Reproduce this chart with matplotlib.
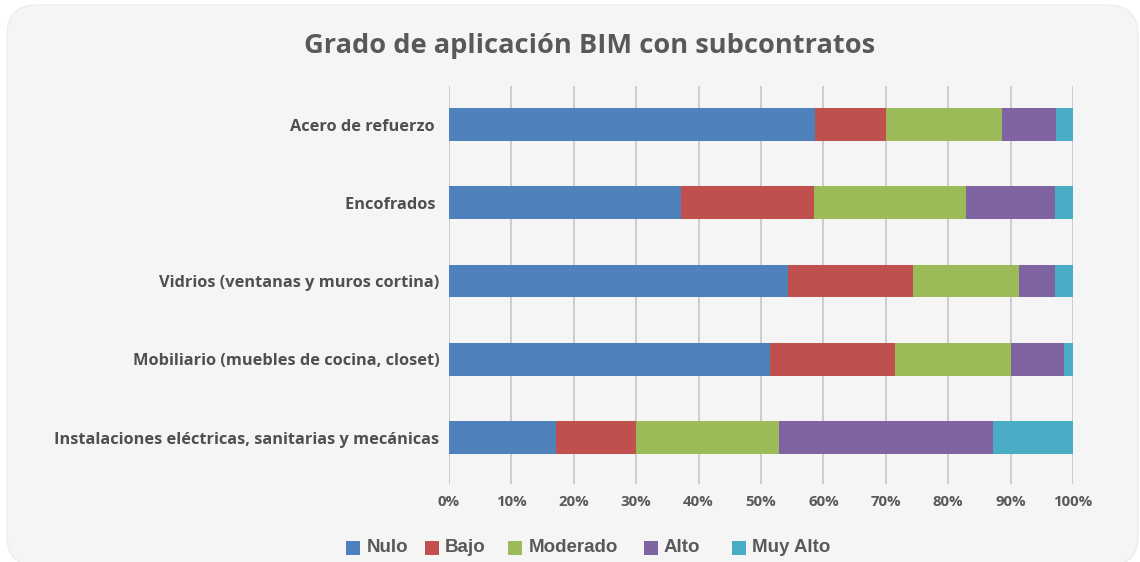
import matplotlib
matplotlib.use("Agg")
import matplotlib.pyplot as plt
from matplotlib.patches import FancyBboxPatch, Rectangle
from matplotlib.transforms import IdentityTransform
import numpy as np

categories = ["Acero de refuerzo ", "Encofrados ", "Vidrios (ventanas y muros cortina)",
              "Mobiliario (muebles de cocina, closet)",
              "Instalaciones eléctricas, sanitarias y mecánicas"]
series_names = ["Nulo", "Bajo", "Moderado", "Alto", "Muy Alto"]
nulo = [58.6, 37.1, 54.3, 51.4, 17.1]
bajo = [11.4, 21.4, 20.0, 20.0, 12.9]
moderado = [18.6, 24.3, 17.1, 18.6, 22.9]
alto = [8.6, 14.3, 5.7, 8.6, 34.3]
muy_alto = [2.9, 2.9, 2.9, 1.4, 12.9]
tick_labels = ["0%", "10%", "20%", "30%", "40%", "50%", "60%", "70%", "80%", "90%", "100%"]
title = "Grado de aplicación BIM con subcontratos"

colors = ["#4f81bd", "#c0504d", "#9bbb59", "#8064a2", "#4bacc6"]
text_col = "#595959"
legend_x = [346, 424.5, 508, 643.5, 732]   # left edge of each legend square (px)

W, H = 1140, 562
fig = plt.figure(figsize=(W / 100, H / 100), dpi=100)
fig.patch.set_facecolor("white")

bg = FancyBboxPatch((7, -4), 1131, 561, boxstyle="round,pad=0,rounding_size=30",
                    transform=IdentityTransform(), facecolor="#f5f5f5", edgecolor="#ebebeb",
                    linewidth=0.8, zorder=-10)
fig.patches.append(bg)

ax_left, ax_right, ax_top, ax_bottom = 449, 1073, 86, 484
ax = fig.add_axes([ax_left / W, 1 - ax_bottom / H, (ax_right - ax_left) / W, (ax_bottom - ax_top) / H])
ax.set_facecolor("none")

data = [nulo, bajo, moderado, alto, muy_alto]
y = np.arange(len(categories))
left = np.zeros(len(categories))
for name, vals, c in zip(series_names, data, colors):
    vals = np.array(vals)
    ax.barh(y, vals, left=left, height=0.42, color=c, label=name, zorder=3)
    left += vals

ax.set_xlim(0, 100)
ax.set_ylim(4.594, -0.492)
ax.set_xticks(np.arange(0, 101, 10))
ax.set_xticklabels(tick_labels)
ax.set_yticks(y)
ax.set_yticklabels(categories)
for s in ax.spines.values():
    s.set_visible(False)
ax.grid(axis="x", color="#cccccc", linewidth=1.4, zorder=0)
ax.tick_params(axis="both", length=0)
ax.tick_params(axis="x", pad=8)
ax.tick_params(axis="y", pad=7)
for t in ax.get_xticklabels():
    t.set_fontfamily("Open Sans")
    t.set_fontweight("bold")
    t.set_fontsize(10.8)
    t.set_color(text_col)
for t in ax.get_yticklabels():
    t.set_fontfamily("Open Sans")
    t.set_fontweight("bold")
    t.set_fontsize(11.8)
    t.set_color("#505050")

fig.text(590 / W, 1 - 46 / H, title, ha="center", va="center", fontfamily="Open Sans",
         fontweight="bold", fontsize=19.6, color=text_col)

# legend drawn in pixel coordinates
for name, c, lx in zip(series_names, colors, legend_x):
    fig.patches.append(Rectangle((lx, H - 555), 14, 14, transform=IdentityTransform(),
                                 facecolor=c, edgecolor="none"))
    fig.text((lx + 20.5) / W, 1 - 548 / H, name, ha="left", va="center",
             fontfamily="Liberation Sans", fontweight="bold", fontsize=13.5, color=text_col)

fig.savefig("out.png", dpi=100, facecolor=fig.get_facecolor())
